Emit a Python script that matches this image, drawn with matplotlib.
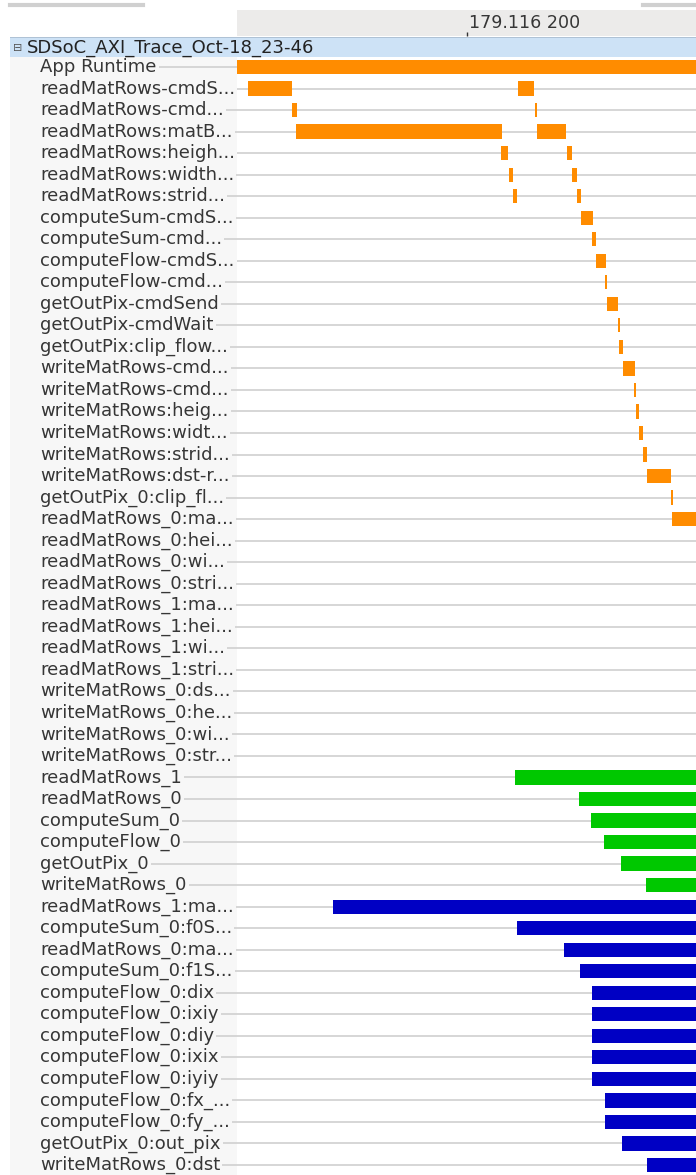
import numpy as np
import matplotlib
matplotlib.use("Agg")
import matplotlib.pyplot as plt

# trace rows, top to bottom
labels = [
    "App Runtime", "readMatRows-cmdS...", "readMatRows-cmd...", "readMatRows:matB...",
    "readMatRows:heigh...", "readMatRows:width...", "readMatRows:strid...",
    "computeSum-cmdS...", "computeSum-cmd...", "computeFlow-cmdS...", "computeFlow-cmd...",
    "getOutPix-cmdSend", "getOutPix-cmdWait", "getOutPix:clip_flow...",
    "writeMatRows-cmd...", "writeMatRows-cmd...", "writeMatRows:heig...",
    "writeMatRows:widt...", "writeMatRows:strid...", "writeMatRows:dst-r...",
    "getOutPix_0:clip_fl...", "readMatRows_0:ma...", "readMatRows_0:hei...",
    "readMatRows_0:wi...", "readMatRows_0:stri...", "readMatRows_1:ma...",
    "readMatRows_1:hei...", "readMatRows_1:wi...", "readMatRows_1:stri...",
    "writeMatRows_0:ds...", "writeMatRows_0:he...", "writeMatRows_0:wi...",
    "writeMatRows_0:str...", "readMatRows_1", "readMatRows_0", "computeSum_0",
    "computeFlow_0", "getOutPix_0", "writeMatRows_0", "readMatRows_1:ma...",
    "computeSum_0:f0S...", "readMatRows_0:ma...", "computeSum_0:f1S...",
    "computeFlow_0:dix", "computeFlow_0:ixiy", "computeFlow_0:diy",
    "computeFlow_0:ixix", "computeFlow_0:iyiy", "computeFlow_0:fx_...",
    "computeFlow_0:fy_...", "getOutPix_0:out_pix", "writeMatRows_0:dst",
]

# software events (orange): row index, start, end  (time in us from view start)
sw_row = [0, 1, 1, 2, 2, 3, 3, 4, 4, 5, 5, 6, 6, 7, 8, 9, 10, 11, 12, 13,
          14, 15, 16, 17, 18, 19, 20, 21]
sw_start = [0, 11.3, 281.3, 55.3, 298.0, 59.0, 299.7, 263.7, 329.7, 271.7, 335.0,
            276.0, 339.7, 344.3, 355.3, 358.7, 367.7, 370.3, 380.5, 382.3,
            386.3, 396.5, 398.7, 402.0, 406.3, 409.7, 433.7, 435.0]
sw_end = [470, 54.7, 297.3, 59.5, 299.7, 264.7, 329.0, 271.3, 335.0, 276.0, 339.7,
          280.3, 343.7, 356.3, 358.7, 369.3, 370.3, 380.7, 382.5, 386.3,
          397.5, 398.7, 401.7, 406.3, 410.3, 433.7, 436.3, 470]

# accelerator runs (green)
hw_row = [33, 34, 35, 36, 37, 38]
hw_start = [278.0, 342.0, 354.3, 367.0, 383.7, 409.0]
hw_end = [470] * 6

# data transfers (blue)
dm_row = list(range(39, 52))
dm_start = [96.3, 279.7, 327.0, 343.0, 355.3, 355.3, 355.3, 355.3, 355.3,
            367.7, 367.7, 385.3, 409.7]
dm_end = [470] * 13

view = (0, 459)
tick_pos = [230]
tick_text = ["179.116 200"]

W, H = 696, 1175
row_h = (1165 - 67) / 51.0


def frac(x0, y0, x1, y1):
    return [x0 / W, 1 - y1 / H, (x1 - x0) / W, (y1 - y0) / H]


fig = plt.figure(figsize=(W / 100, H / 100), dpi=100)
fig.patch.set_facecolor("white")
fs = 13
tcol = "#363636"

ylim = ((1175 - 67) / row_h, -(67 - 57) / row_h)
rows = np.arange(len(labels))

# label column
axl = fig.add_axes(frac(10, 57, 237, 1175))
axl.set_xlim(10, 237)
axl.set_ylim(*ylim)
axl.axis("off")
axl.add_patch(plt.Rectangle((10, ylim[1]), 227, ylim[0] - ylim[1],
                            color="#f7f7f7", zorder=0))
axl.hlines(rows, 40, 237, color="#d6d6d6", lw=1.4, zorder=1)
for i, lab in enumerate(labels):
    axl.text(40, i, lab, fontsize=fs, color=tcol, va="center", ha="left",
             zorder=3, bbox=dict(facecolor="#f7f7f7", edgecolor="none", pad=1.5))

# bar area
ax = fig.add_axes(frac(237, 57, 696, 1175))
ax.set_xlim(*view)
ax.set_ylim(*ylim)
ax.axis("off")
ax.hlines(rows, view[0], view[1], color="#d6d6d6", lw=1.4, zorder=1)
bh = 0.66
ax.barh(sw_row, np.array(sw_end) - np.array(sw_start), left=sw_start,
        height=bh, color="#ff8c00", zorder=2)
ax.barh(hw_row, np.array(hw_end) - np.array(hw_start), left=hw_start,
        height=bh, color="#00c800", zorder=2)
ax.barh(dm_row, np.array(dm_end) - np.array(dm_start), left=dm_start,
        height=bh, color="#0000c4", zorder=2)

# time ruler
axr = fig.add_axes(frac(237, 10, 696, 36))
axr.set_facecolor("#ecebea")
axr.set_xlim(*view)
axr.set_ylim(0, 1)
for s in axr.spines.values():
    s.set_visible(False)
axr.set_yticks([])
axr.set_xticks(tick_pos)
axr.set_xticklabels([])
axr.tick_params(axis="x", direction="in", length=3, width=1, color="#333333")
for p, t in zip(tick_pos, tick_text):
    axr.text(p + 2, 0.5, t, fontsize=12.6, color=tcol, va="center", ha="left")

# header row of the trace tree
axh = fig.add_axes(frac(10, 37, 696, 57))
axh.set_facecolor("#cde2f6")
axh.set_xlim(10, 696)
axh.set_ylim(0, 1)
axh.set_xticks([])
axh.set_yticks([])
for s in axh.spines.values():
    s.set_visible(False)
axh.axhline(1, color="#a9bccf", lw=1.2)
axh.text(18, 0.45, "\u229f", fontsize=8, color="#555555", va="center", ha="center")
axh.text(27, 0.45, "SDSoC_AXI_Trace_Oct-18_23-46", fontsize=fs, color="#222222",
         va="center", ha="left")

# scrollbar stubs at the top
fig.add_artist(plt.Line2D([10 / W, 143 / W], [1 - 5 / H, 1 - 5 / H],
                          color="#d0d0d0", lw=3))
fig.add_artist(plt.Line2D([643 / W, 1], [1 - 5 / H, 1 - 5 / H],
                          color="#d0d0d0", lw=3))

plt.savefig("out.png", dpi=100)
